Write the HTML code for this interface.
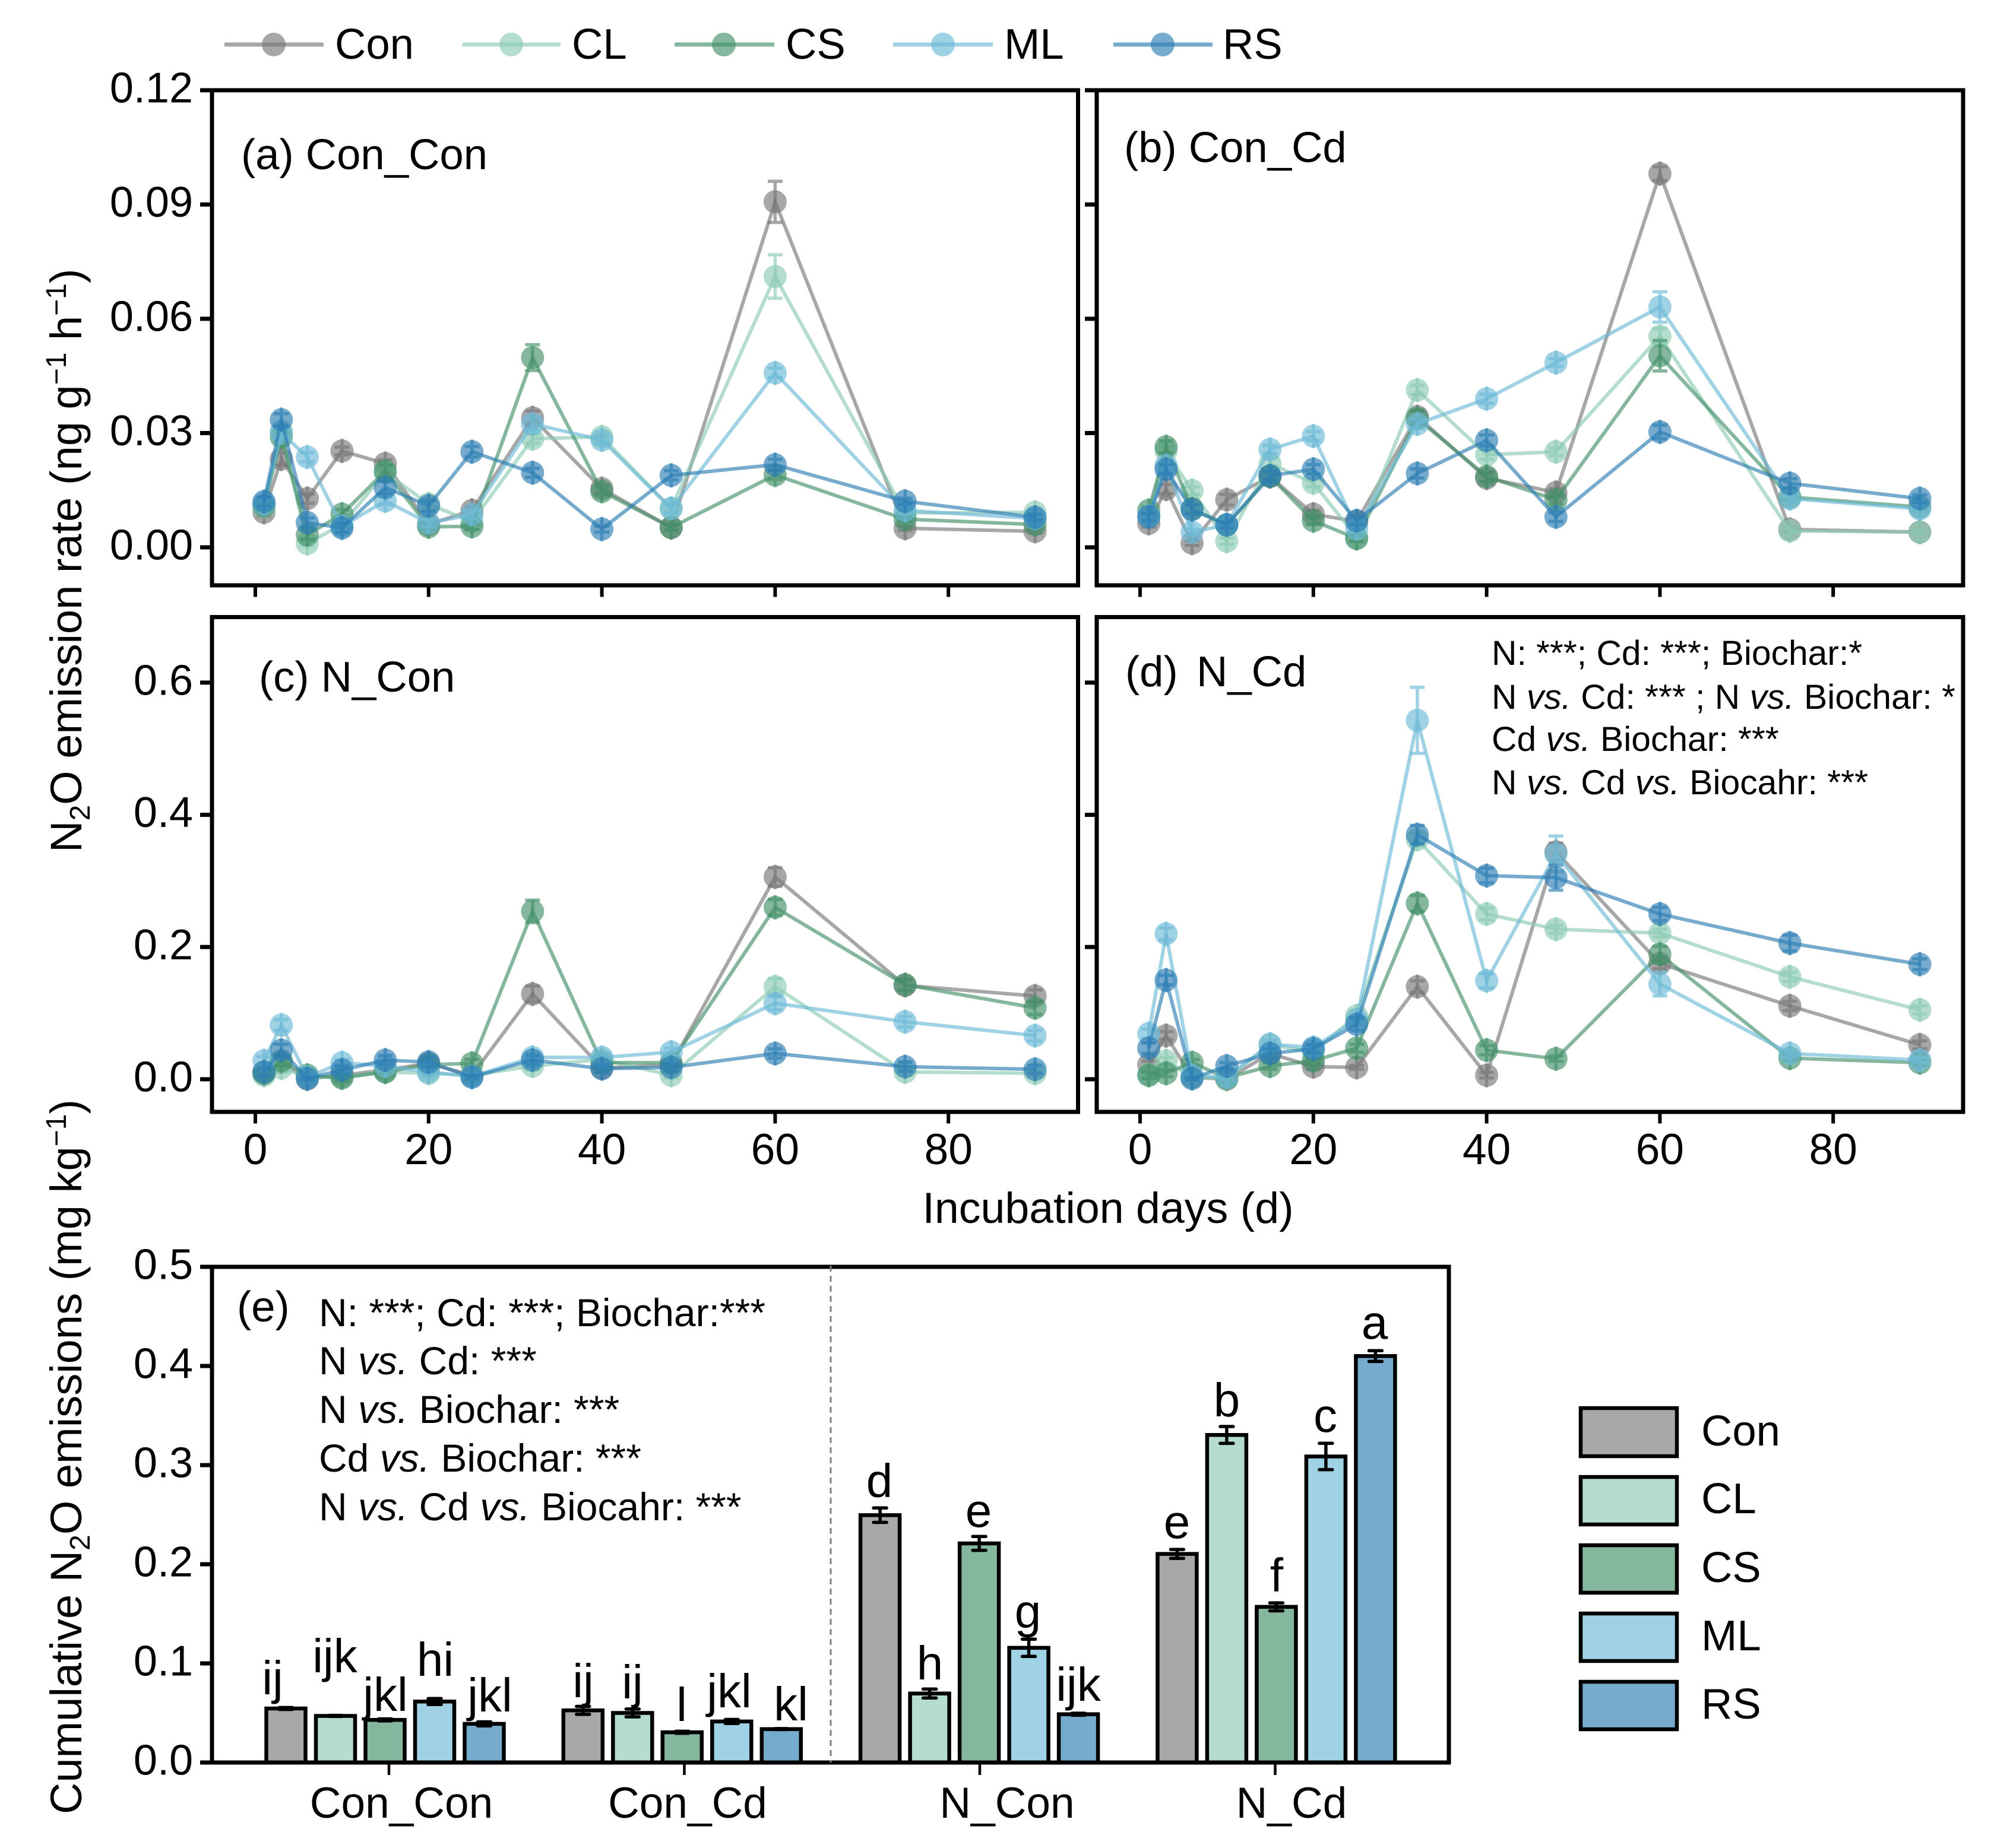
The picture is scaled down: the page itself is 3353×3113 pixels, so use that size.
<!DOCTYPE html>
<html lang="en">
<head>
<meta charset="utf-8">
<title>N2O emission chart</title>
<style>
html,body{margin:0;padding:0;background:#fff;}
svg{display:block;}
text{font-family:"Liberation Sans",Arial,sans-serif;fill:#000;}
.t70{font-size:72.5px;}
.s58{font-size:58.8px;}
.s65{font-size:66px;}
.let{font-size:80px;text-anchor:middle;}
.tit{font-size:74px;}
</style>
</head>
<body>
<svg id="chart" xmlns="http://www.w3.org/2000/svg" width="3353" height="3113" viewBox="0 0 3353 3113">
<rect x="0" y="0" width="3353" height="3113" fill="#fff"/>

<g id="marks"></g>

<g fill="none">
  <g><line x1="378" x2="545" y1="75" y2="75" stroke="rgb(120,120,120)" stroke-opacity=".65" stroke-width="7"/><circle cx="461" cy="75" r="20" fill="rgb(120,120,120)" fill-opacity=".65"/><text class="t70" x="564" y="99">Con</text></g>
  <g><line x1="779" x2="944" y1="75" y2="75" stroke="rgb(140,203,180)" stroke-opacity=".65" stroke-width="7"/><circle cx="861" cy="75" r="20" fill="rgb(140,203,180)" fill-opacity=".65"/><text class="t70" x="963" y="99">CL</text></g>
  <g><line x1="1136" x2="1304" y1="75" y2="75" stroke="rgb(68,145,106)" stroke-opacity=".65" stroke-width="7"/><circle cx="1219" cy="75" r="20" fill="rgb(68,145,106)" fill-opacity=".65"/><text class="t70" x="1323" y="99">CS</text></g>
  <g><line x1="1504" x2="1672" y1="75" y2="75" stroke="rgb(109,186,215)" stroke-opacity=".65" stroke-width="7"/><circle cx="1588" cy="75" r="20" fill="rgb(109,186,215)" fill-opacity=".65"/><text class="t70" x="1691" y="99">ML</text></g>
  <g><line x1="1875" x2="2042" y1="75" y2="75" stroke="rgb(45,126,180)" stroke-opacity=".65" stroke-width="7"/><circle cx="1958" cy="75" r="20" fill="rgb(45,126,180)" fill-opacity=".65"/><text class="t70" x="2059" y="99">RS</text></g>
</g>

<text class="t70" x="406" y="285">(a) Con_Con</text>
<text class="t70" x="1893" y="273">(b) Con_Cd</text>
<text class="t70" x="436" y="1165">(c) N_Con</text>
<text class="t70" x="1895" y="1156">(d)</text>
<text class="t70" x="2015" y="1156">N_Cd</text>
<text class="t70" x="399" y="2226">(e)</text>

<g class="s58">
  <text x="2512" y="1120">N: ***; Cd: ***; Biochar:*</text>
  <text x="2512" y="1194">N <tspan font-style="italic">vs.</tspan> Cd: *** ; N <tspan font-style="italic">vs.</tspan> Biochar: *</text>
  <text x="2512" y="1265">Cd <tspan font-style="italic">vs.</tspan> Biochar: ***</text>
  <text x="2512" y="1338">N <tspan font-style="italic">vs.</tspan> Cd <tspan font-style="italic">vs.</tspan> Biocahr: ***</text>
</g>
<g class="s65">
  <text x="537" y="2234">N: ***; Cd: ***; Biochar:***</text>
  <text x="537" y="2315">N <tspan font-style="italic">vs.</tspan> Cd: ***</text>
  <text x="537" y="2397">N <tspan font-style="italic">vs.</tspan> Biochar: ***</text>
  <text x="537" y="2479">Cd <tspan font-style="italic">vs.</tspan> Biochar: ***</text>
  <text x="537" y="2561">N <tspan font-style="italic">vs.</tspan> Cd <tspan font-style="italic">vs.</tspan> Biocahr: ***</text>
</g>

<text class="tit" transform="translate(137,1436) rotate(-90)">N<tspan font-size="48" dy="14">2</tspan><tspan dy="-14">O emission rate (ng g</tspan><tspan font-size="48" dy="-26">−1</tspan><tspan dy="26"> h</tspan><tspan font-size="48" dy="-26">−1</tspan><tspan dy="26">)</tspan></text>
<text class="tit" transform="translate(137,3056) rotate(-90)">Cumulative N<tspan font-size="48" dy="14">2</tspan><tspan dy="-14">O emissions (mg kg</tspan><tspan font-size="48" dy="-26">−1</tspan><tspan dy="26">)</tspan></text>
<text x="1866" y="2060" text-anchor="middle" font-size="73.5">Incubation days (d)</text>

<g font-size="73" text-anchor="middle">
  <text x="676" y="3062">Con_Con</text>
  <text x="1158" y="3062">Con_Cd</text>
  <text x="1696" y="3062">N_Con</text>
  <text x="2175" y="3062">N_Cd</text>
</g>

<g class="let">
  <text x="459" y="2854">ij</text>
  <text x="564" y="2817">ijk</text>
  <text x="649" y="2882">jkl</text>
  <text x="733" y="2823">hi</text>
  <text x="825" y="2883">jkl</text>
  <text x="982" y="2859">ij</text>
  <text x="1065" y="2861">ij</text>
  <text x="1148" y="2899">l</text>
  <text x="1228" y="2876">jkl</text>
  <text x="1332" y="2898">kl</text>
  <text x="1481" y="2522">d</text>
  <text x="1566" y="2829">h</text>
  <text x="1648" y="2572">e</text>
  <text x="1731" y="2742">g</text>
  <text x="1816" y="2865">ijk</text>
  <text x="1982" y="2591">e</text>
  <text x="2066" y="2386">b</text>
  <text x="2150" y="2681">f</text>
  <text x="2232" y="2412">c</text>
  <text x="2315" y="2255">a</text>
</g>

<g stroke="#000" stroke-width="6.5">
  <g><rect x="2662" y="2372" width="162" height="81" fill="#a8a8a8"/><text class="t70" stroke="none" x="2865" y="2435">Con</text></g>
  <g><rect x="2662" y="2488" width="162" height="80" fill="#b4ddce"/><text class="t70" stroke="none" x="2865" y="2549">CL</text></g>
  <g><rect x="2662" y="2603" width="162" height="80" fill="#85b79e"/><text class="t70" stroke="none" x="2865" y="2665">CS</text></g>
  <g><rect x="2662" y="2718" width="162" height="80" fill="#a0d2e5"/><text class="t70" stroke="none" x="2865" y="2780">ML</text></g>
  <g><rect x="2662" y="2833" width="162" height="80" fill="#76abce"/><text class="t70" stroke="none" x="2865" y="2895">RS</text></g>
</g>
</svg>

<script>
// ---- categories and tick labels ----
const days = [1,3,6,10,15,20,25,32,40,48,60,75,90];
const xTickDays = [0,20,40,60,80];
const xTickLabels = ['0','20','40','60','80'];
const rateTopTicks = [0,0.03,0.06,0.09,0.12];
const rateTopLabels = ['0.00','0.03','0.06','0.09','0.12'];
const rateLowTicks = [0,0.2,0.4,0.6];
const rateLowLabels = ['0.0','0.2','0.4','0.6'];
const cumTicks = [0,0.1,0.2,0.3,0.4,0.5];
const cumLabels = ['0.0','0.1','0.2','0.3','0.4','0.5'];
const treatments = ['con','cl','cs','ml','rs'];
const groups = ['Con_Con','Con_Cd','N_Con','N_Cd'];

// ---- panel a: Con_Con ----
const aCon = [.0092,.0232,.0128,.0253,.022,.006,.0097,.034,.0154,.0052,.0907,.005,.0042];
const aCl  = [.0107,.0305,.001,.006,.0196,.0114,.0067,.0285,.029,.0102,.0711,.009,.0092];
const aCs  = [.0109,.029,.0033,.0087,.02,.0054,.0055,.0498,.0147,.0052,.019,.0074,.006];
const aMl  = [.0114,.0301,.0237,.0055,.0122,.0064,.0086,.0324,.0282,.0102,.0458,.0097,.0076];
const aRs  = [.012,.0335,.0065,.0051,.0157,.0109,.0251,.0196,.0048,.0189,.0217,.0121,.0079];
const aConErr = [.001,.0016,.0012,.001,.001,.0008,.001,.0018,.001,.0006,.0054,.0006,.0005];
const aClErr  = [.001,.0012,.0006,.0008,.001,.0012,.0008,.0012,.0012,.0012,.0057,.0006,.0006];
const aCsErr  = [.001,.0012,.0012,.0012,.0016,.0008,.0008,.0034,.001,.0008,.0012,.0006,.0006];
const aMlErr  = [.001,.0012,.0012,.0012,.001,.001,.001,.0016,.001,.0012,.0012,.0008,.0006];
const aRsErr  = [.0012,.0016,.0012,.0012,.0016,.0014,.0014,.0012,.0008,.0012,.0014,.0008,.0008];

// ---- panel b: Con_Cd ----
const bCon = [.0063,.0153,.0011,.0125,.0186,.0087,.0068,.0343,.0182,.0144,.0981,.0047,.004];
const bCl  = [.0082,.0253,.0149,.0016,.022,.0169,.0026,.0413,.0243,.0251,.0554,.0043,.004];
const bCs  = [.0097,.0264,.0101,.0059,.0186,.007,.0023,.0338,.0186,.0125,.0503,.0132,.0106];
const bMl  = [.0082,.0215,.004,.0059,.0257,.0292,.0049,.0324,.039,.0485,.0631,.0128,.0101];
const bRs  = [.008,.0205,.0099,.0059,.0188,.0205,.007,.0194,.0281,.008,.0303,.0168,.0128];
const bConErr = [.001,.0012,.0006,.0014,.0012,.001,.0008,.0016,.0012,.001,.0018,.0006,.0006];
const bClErr  = [.001,.0012,.001,.0008,.0014,.001,.0008,.0012,.0012,.001,.002,.0006,.0006];
const bCsErr  = [.001,.0016,.001,.0008,.0012,.001,.0008,.0022,.0012,.0012,.004,.0008,.0008];
const bMlErr  = [.001,.0012,.0008,.0008,.001,.0012,.0008,.0012,.0012,.001,.004,.0008,.0008];
const bRsErr  = [.001,.0012,.0012,.0008,.0012,.0012,.001,.0012,.0014,.0012,.0018,.0012,.001];

// ---- panel c: N_Con ----
const cCon = [.011,.025,.0005,.006,.014,.024,.006,.129,.017,.022,.306,.142,.126];
const cCl  = [.006,.017,.003,.003,.011,.009,.006,.02,.03,.006,.14,.011,.009];
const cCs  = [.009,.028,.006,.002,.011,.022,.024,.254,.025,.025,.26,.143,.108];
const cMl  = [.028,.082,.003,.025,.02,.011,.004,.033,.033,.041,.115,.087,.066];
const cRs  = [.011,.044,.001,.014,.029,.026,.003,.029,.016,.018,.039,.019,.015];
const cConErr = [.005,.008,.002,.004,.006,.006,.003,.012,.006,.005,.014,.008,.009];
const cClErr  = [.004,.006,.002,.003,.004,.004,.003,.006,.005,.004,.012,.005,.004];
const cCsErr  = [.004,.008,.003,.005,.005,.006,.006,.017,.006,.006,.012,.008,.01];
const cMlErr  = [.006,.008,.002,.005,.005,.005,.003,.006,.006,.006,.01,.008,.008];
const cRsErr  = [.005,.009,.002,.006,.007,.007,.003,.007,.006,.006,.007,.007,.006];

// ---- panel d: N_Cd ----
const dCon = [.022,.066,.003,0,.039,.019,.018,.14,.006,.344,.175,.111,.052];
const dCl  = [.007,.028,.003,.001,.052,.041,.096,.363,.25,.227,.221,.155,.105];
const dCs  = [.006,.009,.025,.002,.02,.028,.047,.266,.044,.031,.189,.032,.025];
const dMl  = [.069,.22,.006,.003,.053,.048,.09,.543,.149,.341,.144,.039,.029];
const dRs  = [.047,.15,.001,.02,.039,.046,.083,.37,.308,.305,.25,.206,.174];
const dConErr = [.005,.006,.002,.003,.005,.004,.003,.009,.004,.013,.008,.007,.006];
const dClErr  = [.003,.005,.002,.002,.006,.004,.008,.01,.009,.006,.006,.007,.006];
const dCsErr  = [.005,.005,.005,.002,.005,.004,.006,.012,.007,.004,.012,.004,.004];
const dMlErr  = [.007,.009,.002,.003,.006,.006,.007,.05,.011,.027,.018,.005,.004];
const dRsErr  = [.008,.007,.002,.005,.007,.006,.01,.014,.011,.019,.01,.012,.008];

// ---- panel e: cumulative emissions, one array per treatment across groups ----
const eCon = [.0545,.0526,.2495,.2104];
const eCl  = [.047,.05,.0696,.3304];
const eCs  = [.043,.0305,.221,.157];
const eMl  = [.0615,.0414,.1157,.3087];
const eRs  = [.039,.0337,.0487,.41];
const eConErr = [.001,.004,.0073,.0045];
const eClErr  = [.0005,.004,.0045,.0085];
const eCsErr  = [.001,.001,.007,.004];
const eMlErr  = [.003,.002,.0087,.0133];
const eRsErr  = [.002,.0005,.001,.0054];

const NS = 'http://www.w3.org/2000/svg';
const root = document.getElementById('marks');
const seriesColor = ['rgb(120,120,120)','rgb(140,203,180)','rgb(68,145,106)','rgb(109,186,215)','rgb(45,126,180)'];
const barFill = ['#a8a8a8','#b4ddce','#85b79e','#a0d2e5','#76abce'];

function make(parent, tag, attrs, text){
  const el = document.createElementNS(NS, tag);
  for (const k in attrs) el.setAttribute(k, attrs[k]);
  if (text !== undefined) el.textContent = text;
  parent.appendChild(el);
  return el;
}
function linearX(x0, perDay){ return function(d){ return x0 + d * perDay; }; }
function linearY(y0, perUnit){ return function(v){ return y0 - v * perUnit; }; }

function drawFrame(g, left, top, right, bottom){
  const frame = make(g, 'rect', {x:left, y:top, width:right-left, height:bottom-top, fill:'none', stroke:'#000', 'stroke-width':7});
  
  
}
function drawXTicks(g, xs, bottom, withLabels){
  xTickDays.forEach(function(d, i){
    const tick = make(g, 'line', {x1:xs(d), x2:xs(d), y1:bottom, y2:bottom+19.5, stroke:'#000', 'stroke-width':6});
    
    
    if (withLabels){
      const lab = make(g, 'text', {x:xs(d), y:bottom+88, 'text-anchor':'middle', 'font-size':73}, xTickLabels[i]);
      
      
    }
  });
}
function drawYTicks(g, ys, left, ticks, labels){
  ticks.forEach(function(v, i){
    const tick = make(g, 'line', {x1:left-20, x2:left, y1:ys(v), y2:ys(v), stroke:'#000', 'stroke-width':7});
    
    
    if (labels){
      const lab = make(g, 'text', {x:left-32, y:ys(v)+20.5, 'text-anchor':'end', 'font-size':72}, labels[i]);
      
      
    }
  });
}
function drawSeries(g, xs, ys, values, errs, si){
  const color = seriesColor[si];
  const sg = make(g, 'g', {});
  
  
  const pts = values.map(function(v, i){ return xs(days[i]) + ',' + ys(v); }).join(' ');
  const line = make(sg, 'polyline', {points:pts, fill:'none', stroke:color, 'stroke-opacity':.65, 'stroke-width':6, 'stroke-linejoin':'miter'});
  
  
  values.forEach(function(v, i){
    const cx = xs(days[i]), cy = ys(v);
    const hi = ys(v + errs[i]), lo = ys(v - errs[i]);
    const top = Math.min(hi, cy - 20.5), bot = Math.max(lo, cy + 20.5);
    const err = make(sg, 'path', {d:'M'+cx+' '+top+'V'+bot+'M'+(cx-12.5)+' '+hi+'H'+(cx+12.5)+'M'+(cx-12.5)+' '+lo+'H'+(cx+12.5), fill:'none', stroke:color, 'stroke-opacity':.65, 'stroke-width':5.5});
    
    
    const pt = make(sg, 'circle', {cx:cx, cy:cy, r:19.5, fill:color, 'fill-opacity':.65});
    
    
  });
}
function drawLinePanel(name, cfg, series, errors, ticks, yLabels){
  const g = make(root, 'g', {});
  
  
  const xs = linearX(cfg.x0, 14.59);
  const ys = linearY(cfg.y0, cfg.perUnit);
  series.forEach(function(values, si){ drawSeries(g, xs, ys, values, errors[si], si); });
  drawFrame(g, cfg.left, cfg.top, cfg.right, cfg.bottom);
  drawXTicks(g, xs, cfg.bottom, cfg.xLabels);
  drawYTicks(g, ys, cfg.left, ticks, yLabels);
}

const topY = 922, topPer = 192.5 / 0.03;
const lowY = 1818, lowPer = 222.7 / 0.2;
drawLinePanel('panel-a-con-con', {x0:430, y0:topY, perUnit:topPer, left:357, right:1815.5, top:152, bottom:986, xLabels:false},
  [aCon,aCl,aCs,aMl,aRs], [aConErr,aClErr,aCsErr,aMlErr,aRsErr], rateTopTicks, rateTopLabels);
drawLinePanel('panel-b-con-cd', {x0:1920, y0:topY, perUnit:topPer, left:1847, right:3306, top:152, bottom:986, xLabels:false},
  [bCon,bCl,bCs,bMl,bRs], [bConErr,bClErr,bCsErr,bMlErr,bRsErr], rateTopTicks, null);
drawLinePanel('panel-c-n-con', {x0:430, y0:lowY, perUnit:lowPer, left:357, right:1815.5, top:1039.5, bottom:1873, xLabels:true},
  [cCon,cCl,cCs,cMl,cRs], [cConErr,cClErr,cCsErr,cMlErr,cRsErr], rateLowTicks, rateLowLabels);
drawLinePanel('panel-d-n-cd', {x0:1920, y0:lowY, perUnit:lowPer, left:1847, right:3306, top:1039.5, bottom:1873, xLabels:true},
  [dCon,dCl,dCs,dMl,dRs], [dConErr,dClErr,dCsErr,dMlErr,dRsErr], rateLowTicks, null);

// ---- bar panel ----
(function(){
  const g = make(root, 'g', {});
  
  
  const left = 357, right = 2440, top = 2134, bottom = 2969;
  const ys = linearY(bottom, 1670);
  const series = [eCon,eCl,eCs,eMl,eRs];
  const errors = [eConErr,eClErr,eCsErr,eMlErr,eRsErr];
  const barX = function(gi, si){ return 448.5 + gi * 500.3 + si * 83.5; };
  const barW = 66;
  series.forEach(function(vals, si){
    vals.forEach(function(v, gi){
      const x = barX(gi, si);
      const bar = make(g, 'rect', {x:x, y:ys(v), width:barW, height:bottom-ys(v), fill:barFill[si], stroke:'#000', 'stroke-width':6.5});
      
      
      const cx = x + barW / 2, e = errors[si][gi];
      const err = make(g, 'path', {d:'M'+cx+' '+ys(v+e)+'V'+ys(v-e)+'M'+(cx-11)+' '+ys(v+e)+'H'+(cx+11)+'M'+(cx-11)+' '+ys(v-e)+'H'+(cx+11), fill:'none', stroke:'#000', 'stroke-width':5.5, 'stroke-linecap':'round'});
      
      
    });
  });
  drawFrame(g, left, top, right, bottom);
  const divider = make(g, 'line', {x1:1399, x2:1399, y1:top-2, y2:bottom, stroke:'#808080', 'stroke-width':3, 'stroke-dasharray':'10 7'});
  
  
  drawYTicks(g, ys, left, cumTicks, cumLabels);
  groups.forEach(function(name, gi){
    const x = 655 + gi * 497.5;
    const tick = make(g, 'line', {x1:x, x2:x, y1:bottom, y2:bottom+21, stroke:'#000', 'stroke-width':4.5});
    
    
  });
})();
</script>
</body>
</html>
